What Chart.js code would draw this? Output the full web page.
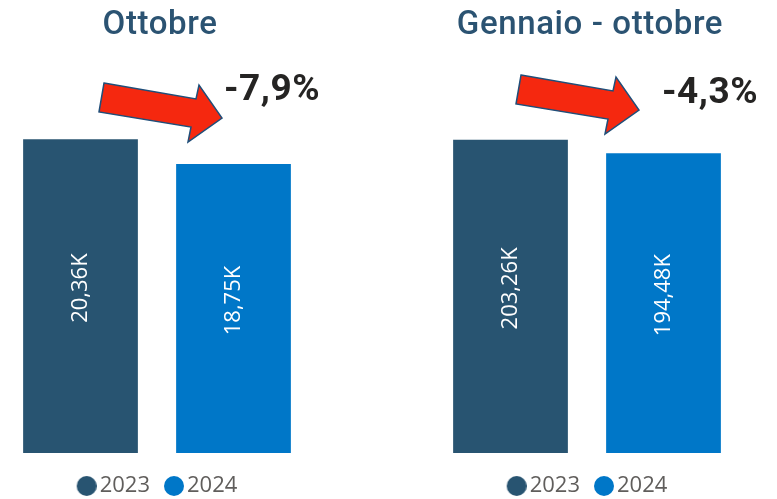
<!DOCTYPE html>
<html lang="it">
<head>
<meta charset="utf-8">
<title>Ottobre / Gennaio - ottobre</title>
<script src="https://cdn.jsdelivr.net/npm/chart.js@4.4.1/dist/chart.umd.min.js"></script>
<style>
  html, body { margin: 0; padding: 0; background: #fff; overflow: hidden; }
  .panel { position: absolute; top: 0; }
  #panelLeft { left: 0; }
  #panelRight { left: 388px; }
</style>
</head>
<body>
<div class="panel" id="panelLeft"><canvas id="chartLeft" width="388" height="507"></canvas></div>
<div class="panel" id="panelRight"><canvas id="chartRight" width="389" height="507"></canvas></div>
<script>
// ─── Data ─────────────────────────────────────────────────────────────────────

const SERIES = ['2023', '2024'];
const TITLES = ['Ottobre', 'Gennaio - ottobre'];
const OTTOBRE = [20.36, 18.75];          // migliaia
const GENNAIO_OTTOBRE = [203.26, 194.48];
const VARIAZIONI = ['-7,9%', '-4,3%'];
const Y_MAX = [23, 230];
const COLORS = ['#285471', '#0077C8'];

// ─── Helpers ──────────────────────────────────────────────────────────────────

const ARROW = [[0, 0], [92, 16], [95, 2], [118, 35], [84, 59], [87, 44], [-5, 29]];

// legend marker: 20px dot, drawn a little right of the box centre so it sits close to the text
function dot(color) {
  const c = document.createElement('canvas');
  c.width = 28; c.height = 20;
  const g = c.getContext('2d');
  g.fillStyle = color;
  g.beginPath();
  g.arc(18, 10, 10, 0, Math.PI * 2);
  g.fill();
  return c;
}

const formatK = v => v.toFixed(2).replace('.', ',') + 'K';

// bar values, rotated inside each bar
const barLabels = {
  id: 'barLabels',
  afterDatasetsDraw(chart) {
    const ctx = chart.ctx;
    chart.data.datasets.forEach((ds, i) => {
      chart.getDatasetMeta(i).data.forEach((bar, j) => {
        const v = ds.data[j];
        if (v == null) return;
        ctx.save();
        ctx.translate(bar.x, (bar.y + bar.base) / 2 - 8);
        ctx.rotate(-Math.PI / 2);
        ctx.font = '22px "Open Sans"';
        ctx.fillStyle = '#ffffff';
        ctx.textAlign = 'center';
        ctx.textBaseline = 'middle';
        ctx.fillText(formatK(v), 0, 0);
        ctx.restore();
      });
    });
  },
};

// panel title, red arrow and percentage change
const panelDecor = {
  id: 'panelDecor',
  afterDraw(chart, args, opts) {
    const ctx = chart.ctx;
    const area = chart.chartArea;
    ctx.save();

    ctx.font = '500 33px Roboto';
    ctx.letterSpacing = '0.6px';
    ctx.fillStyle = '#2B5372';
    ctx.textAlign = 'center';
    ctx.textBaseline = 'alphabetic';
    ctx.fillText(opts.title, (area.left + area.right) / 2 + 3, 34);

    const [ox, oy] = opts.arrowAt;
    ctx.beginPath();
    ARROW.forEach(([dx, dy], k) => k ? ctx.lineTo(ox + dx, oy + dy) : ctx.moveTo(ox + dx, oy + dy));
    ctx.closePath();
    ctx.fillStyle = '#F5280F';
    ctx.fill();
    ctx.lineWidth = 1.5;
    ctx.strokeStyle = '#1F4E79';
    ctx.stroke();

    ctx.font = 'bold 37px Roboto';
    ctx.letterSpacing = '0.5px';
    ctx.fillStyle = '#252423';
    ctx.textAlign = 'right';
    ctx.fillText(opts.text, opts.textAt[0], opts.textAt[1]);
    ctx.restore();
  },
};

// ─── Panels ───────────────────────────────────────────────────────────────────

function makePanel(canvasId, title, values, yMax, change, padding, arrowAt, textAt) {
  return new Chart(document.getElementById(canvasId), {
    type: 'bar',
    data: {
      labels: SERIES,
      datasets: SERIES.map((s, i) => ({
        label: s,
        data: values.map((v, j) => (j === i ? v : null)),
        backgroundColor: COLORS[i],
        grouped: false,
        categoryPercentage: 1,
        barPercentage: 0.75,
      })),
    },
    options: {
      responsive: false,
      animation: false,
      layout: { padding: { left: padding[0], right: padding[1], top: 98.5, bottom: 0 } },
      scales: {
        x: {
          grid: { display: false },
          border: { display: false },
          ticks: { display: false },
          afterFit: s => { s.height = 8; },
        },
        y: { display: false, min: 0, max: yMax },
      },
      plugins: {
        title: { display: false },
        legend: {
          position: 'bottom',
          fullSize: false,
          labels: {
            usePointStyle: true,
            pointStyleWidth: 12,
            padding: 14,
            color: '#605E5C',
            font: { family: 'Open Sans', size: 22 },
            generateLabels: chart => chart.data.datasets.map((ds, i) => ({
              text: ds.label,
              fillStyle: ds.backgroundColor,
              strokeStyle: ds.backgroundColor,
              lineWidth: 0,
              pointStyle: dot(ds.backgroundColor),
              fontColor: '#605E5C',
              hidden: false,
              datasetIndex: i,
            })),
          },
        },
        tooltip: { enabled: false },
        panelDecor: { title, text: change, arrowAt, textAt },
      },
    },
    plugins: [barLabels, panelDecor],
  });
}

makePanel('chartLeft', TITLES[0], OTTOBRE, Y_MAX[0], VARIAZIONI[0], [4, 78], [104, 83], [320, 100]);
makePanel('chartRight', TITLES[1], GENNAIO_OTTOBRE, Y_MAX[1], VARIAZIONI[1], [46, 37], [133, 75], [370, 103]);
</script>
</body>
</html>
